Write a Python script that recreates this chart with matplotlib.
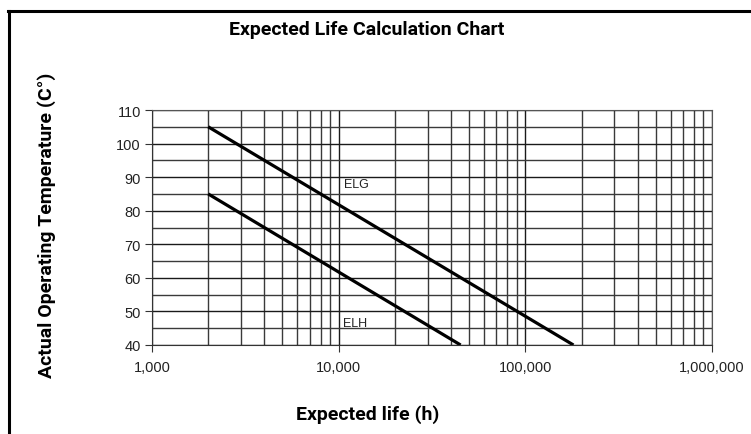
import matplotlib
matplotlib.use("Agg")
import matplotlib.pyplot as plt
from matplotlib.lines import Line2D
from matplotlib.ticker import FixedLocator, FuncFormatter

# rated life at 10 C steps halves/doubles -> straight lines on log axis
elg_hours = [2000, 181000]
elg_temp = [105, 40]
elh_hours = [2000, 45000]
elh_temp = [85, 40]

x_ticks = [1000, 10000, 100000, 1000000]
y_ticks = [40, 50, 60, 70, 80, 90, 100, 110]
y_minor = [45, 55, 65, 75, 85, 95, 105]

fig = plt.figure(figsize=(7.51, 4.35), dpi=100)
ax = fig.add_axes([0.2024, 0.2046, 0.7457, 0.5402])

ax.plot(elg_hours, elg_temp, color="black", lw=2.3, solid_capstyle="butt")
ax.plot(elh_hours, elh_temp, color="black", lw=2.3, solid_capstyle="butt")

ax.set_xscale("log")
ax.set_xlim(1000, 1000000)
ax.set_ylim(40, 110)

ax.xaxis.set_major_locator(FixedLocator(x_ticks))
ax.xaxis.set_major_formatter(FuncFormatter(lambda v, p: f"{int(round(v)):,}"))
minors = [m * 10 ** e for e in (3, 4, 5) for m in range(2, 10)]
ax.xaxis.set_minor_locator(FixedLocator(minors))
ax.yaxis.set_major_locator(FixedLocator(y_ticks))
ax.yaxis.set_minor_locator(FixedLocator(y_minor))

ax.grid(which="major", color="#1a1a1a", lw=1.0)
ax.grid(which="minor", color="#3a3a3a", lw=1.0)
ax.set_axisbelow(True)

for s in ["top", "right"]:
    ax.spines[s].set_color("#555555")
for s in ["left", "bottom"]:
    ax.spines[s].set_color("#333333")

ax.tick_params(axis="both", which="major", length=5, color="#333333",
               labelsize=10.5, labelcolor="#222222", pad=3)
ax.tick_params(axis="x", which="major", pad=6)
ax.tick_params(axis="both", which="minor", length=0)
for lab in ax.get_xticklabels() + ax.get_yticklabels():
    lab.set_family("Liberation Sans")

ax.text(12500, 88, "ELG", fontsize=9, family="Liberation Sans", color="#222222",
        ha="center", va="center")
ax.text(12200, 46.5, "ELH", fontsize=9, family="Liberation Sans", color="#222222",
        ha="center", va="center")

fig.text(0.488, 0.931, "Expected Life Calculation Chart", fontsize=14,
         family="Roboto", weight="bold", ha="center", va="center")
fig.text(0.49, 0.048, "Expected life (h)", fontsize=14,
         family="Roboto", weight="bold", ha="center", va="center")
fig.text(0.062, 0.483, "Actual Operating Temperature (C°)", fontsize=14,
         family="Roboto", weight="bold", ha="center", va="center", rotation=90)

# outer frame (left and top edges only)
fig.add_artist(Line2D([0.012, 0.012], [0.0, 0.972], transform=fig.transFigure,
                      color="black", lw=2.2))
fig.add_artist(Line2D([0.011, 1.0], [0.972, 0.972], transform=fig.transFigure,
                      color="black", lw=2.2))

fig.savefig("out.png", dpi=100)
